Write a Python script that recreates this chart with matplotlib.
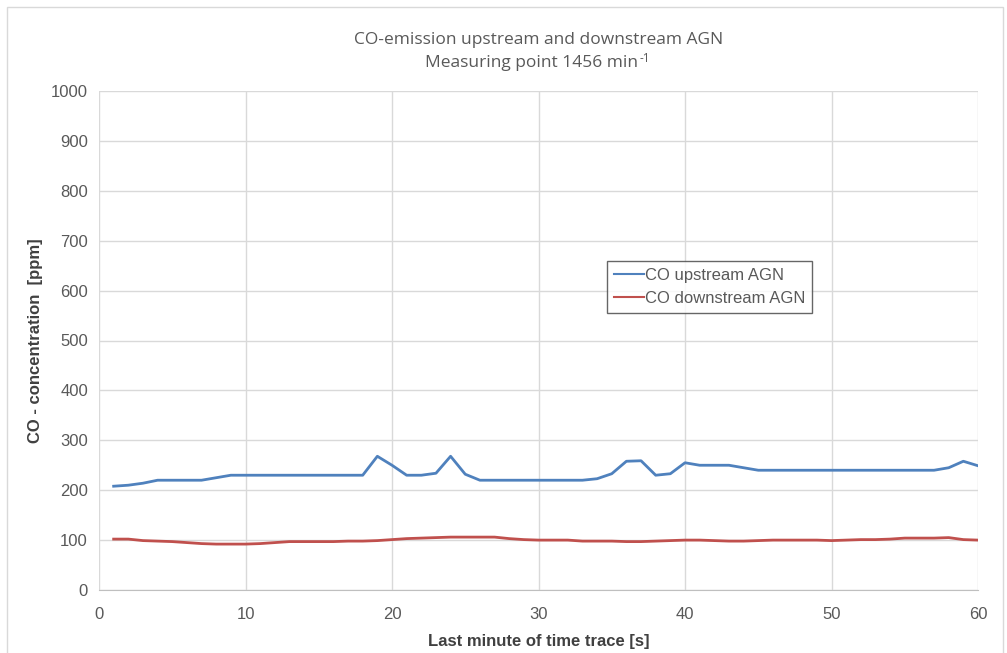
import numpy as np
import matplotlib
matplotlib.use("Agg")
import matplotlib.pyplot as plt
from matplotlib.patches import Rectangle

plt.rcParams["font.family"] = ["Liberation Sans", "DejaVu Sans"]

seconds = list(range(1, 61))
co_upstream = [208, 210, 214, 220, 220, 220, 220, 225, 230, 230,
               230, 230, 230, 230, 230, 230, 230, 230, 268, 250,
               230, 230, 234, 268, 232, 220, 220, 220, 220, 220,
               220, 220, 220, 223, 233, 258, 259, 230, 233, 255,
               250, 250, 250, 245, 240, 240, 240, 240, 240, 240,
               240, 240, 240, 240, 240, 240, 240, 245, 258, 249]
co_downstream = [102, 102, 99, 98, 97, 95, 93, 92, 92, 92,
                 93, 95, 97, 97, 97, 97, 98, 98, 99, 101,
                 103, 104, 105, 106, 106, 106, 106, 103, 101, 100,
                 100, 100, 98, 98, 98, 97, 97, 98, 99, 100,
                 100, 99, 98, 98, 99, 100, 100, 100, 100, 99,
                 100, 101, 101, 102, 104, 104, 104, 105, 101, 100]

fig = plt.figure(figsize=(10.07, 6.53), dpi=100)
# outer chart border
fig.patches.append(Rectangle((0.007, -0.01), 0.989, 1.0, transform=fig.transFigure,
                             fill=False, edgecolor="#d9d9d9", linewidth=1))
ax = fig.add_axes([99 / 1007, 1 - 590 / 653, (978 - 99) / 1007, (590 - 91) / 653])

ax.plot(seconds, co_upstream, color="#4f81bd", linewidth=2, label="CO upstream AGN")
ax.plot(seconds, co_downstream, color="#c0504d", linewidth=2, label="CO downstream AGN")

ax.set_xlim(0, 60)
ax.set_ylim(0, 1000)
ax.set_xticks(range(0, 61, 10))
ax.set_yticks(range(0, 1001, 100))
ax.grid(True, color="#d9d9d9", linewidth=1)
ax.set_axisbelow(True)
for side in ["top", "right", "left"]:
    ax.spines[side].set_visible(False)
ax.spines["bottom"].set_color("#bfbfbf")
ax.tick_params(length=0, labelsize=12, colors="#595959")
ax.tick_params(axis="x", pad=12)
ax.tick_params(axis="y", pad=8)

ax.set_xlabel("Last minute of time trace [s]", fontsize=12, fontweight="bold", color="#404040", labelpad=9)
ax.set_ylabel("CO - concentration  [ppm]", fontsize=12, fontweight="bold", color="#404040", labelpad=6)

title_kw = dict(ha="center", va="center", fontsize=12.5, color="#595959",
                family=["Open Sans", "DejaVu Sans"])
fig.text(0.535, 1 - 40 / 653, "CO-emission upstream and downstream AGN", **title_kw)
t2 = fig.text(0.528, 1 - 63 / 653, "Measuring point 1456 min", **title_kw)
fig.canvas.draw()
bb = t2.get_window_extent().transformed(fig.transFigure.inverted())
fig.text(bb.x1 + 0.001, bb.y1 - 0.006, "-1", ha="left", va="center", fontsize=8.5,
         color="#595959", family=["Open Sans", "DejaVu Sans"])

leg = ax.legend(loc="upper left", bbox_to_anchor=((607 - 99) / 879, (590 - 261) / 499),
                borderaxespad=0, fontsize=12, frameon=True, fancybox=False, handlelength=1.8,
                handletextpad=0.1, borderpad=0.4, labelspacing=0.5)
leg.get_frame().set_edgecolor("#404040")
leg.get_frame().set_linewidth(1)
for t in leg.get_texts():
    t.set_color("#595959")
for l in leg.get_lines():
    l.set_linewidth(1.5)

fig.savefig("out.png", dpi=100)
